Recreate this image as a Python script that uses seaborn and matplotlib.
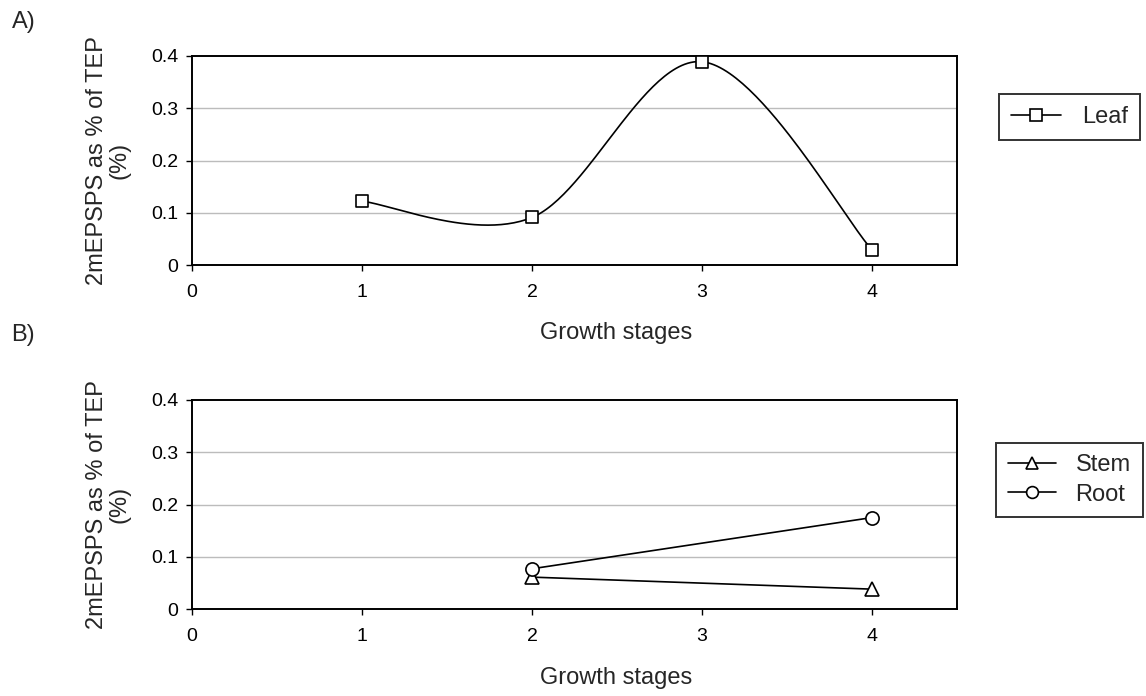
import numpy as np
import matplotlib
matplotlib.use("Agg")
import matplotlib.pyplot as plt
import seaborn as sns
from matplotlib.lines import Line2D

# ---- data ----
leaf_stages = [1, 2, 3, 4]
leaf_values = [0.122, 0.091, 0.389, 0.029]
sr_stages = [2, 4]
stem_values = [0.061, 0.038]
root_values = [0.077, 0.175]
x_ticks = [0, 1, 2, 3, 4]
y_ticks = [0, 0.1, 0.2, 0.3, 0.4]
y_tick_labels = ["0", "0.1", "0.2", "0.3", "0.4"]
y_label = "2mEPSPS as % of TEP\n(%)"
x_label = "Growth stages"
panel_labels = ["A)", "B)"]

sns.set_style("white")
plt.rcParams['font.family'] = ['Liberation Sans', 'DejaVu Sans']

W, H = 1146, 696
fig = plt.figure(figsize=(W / 100, H / 100), dpi=100)


def rect(l, t, r, b):
    return [l / W, 1 - b / H, (r - l) / W, (b - t) / H]


axA = fig.add_axes(rect(192, 56, 957, 265))
axB = fig.add_axes(rect(192, 400, 957, 609))


def smooth(xs, ys, n=60):
    """Excel-style smoothed line (Bezier through the points)."""
    P = np.column_stack([xs, ys]).astype(float)
    out = []
    for i in range(len(P) - 1):
        p0 = P[i - 1] if i > 0 else P[i]
        p1 = P[i]
        p2 = P[i + 1]
        p3 = P[i + 2] if i + 2 < len(P) else P[i + 1]
        c1 = p1 + (p2 - p0) / 6
        c2 = p2 - (p3 - p1) / 6
        t = np.linspace(0, 1, n)[:, None]
        seg = (1 - t) ** 3 * p1 + 3 * (1 - t) ** 2 * t * c1 + 3 * (1 - t) * t ** 2 * c2 + t ** 3 * p2
        out.append(seg if i == 0 else seg[1:])
    return np.vstack(out)


for ax in (axA, axB):
    ax.set_xlim(0, 4.5)
    ax.set_ylim(0, 0.4)
    ax.set_xticks(x_ticks)
    ax.set_xticklabels([str(v) for v in x_ticks])
    ax.set_yticks(y_ticks)
    ax.set_yticklabels(y_tick_labels)
    ax.grid(False)
    for yv in y_ticks[1:-1]:
        ax.axhline(yv, color='#bcbcbc', lw=1.0, zorder=0)
    for s in ax.spines.values():
        s.set_color('black')
        s.set_linewidth(1.4)
        s.set_visible(True)
    ax.tick_params(axis='both', direction='out', length=4, width=1, color='black',
                   labelsize=14, labelcolor='black', bottom=True, left=True)
    ax.tick_params(axis='x', pad=10)
    ax.tick_params(axis='y', pad=6)
    ax.set_facecolor('white')

# Panel A: Leaf (smoothed line)
curve = smooth(leaf_stages, leaf_values)
axA.plot(curve[:, 0], curve[:, 1], color='black', lw=1.2, zorder=2)
sns.scatterplot(x=leaf_stages, y=leaf_values, ax=axA, marker='s', s=80,
                color='white', edgecolor='black', linewidth=1.2, zorder=3, clip_on=False)

# Panel B: Stem and Root
sns.lineplot(x=sr_stages, y=stem_values, ax=axB, color='black', lw=1.2,
             marker='^', markersize=10, markerfacecolor='white', markeredgecolor='black',
             markeredgewidth=1.2, zorder=3, clip_on=False)
sns.lineplot(x=sr_stages, y=root_values, ax=axB, color='black', lw=1.2,
             marker='o', markersize=9.5, markerfacecolor='white', markeredgecolor='black',
             markeredgewidth=1.2, zorder=3, clip_on=False)

# Axis titles
for ax, yc, xl_y in ((axA, (56 + 265) / 2, 333), (axB, (400 + 609) / 2, 678)):
    fig.text(108 / W, 1 - yc / H, y_label, rotation=90, ha='center', va='center',
             multialignment='center', fontsize=17, linespacing=1.0)
    fig.text(616 / W, 1 - xl_y / H, x_label, ha='center', va='center', fontsize=17)

fig.text(12 / W, 1 - 22 / H, panel_labels[0], ha='left', va='center', fontsize=17)
fig.text(11 / W, 1 - 335 / H, panel_labels[1], ha='left', va='center', fontsize=17)

# Legends
hA = [Line2D([], [], color='black', lw=1.2, marker='s', markersize=8.5,
             markerfacecolor='white', markeredgecolor='black', markeredgewidth=1.2)]
legA = fig.legend(hA, ['Leaf'], loc='center', bbox_to_anchor=(1069.5 / W, 1 - 117 / H),
                  frameon=True, fancybox=False, edgecolor='black', fontsize=17,
                  handlelength=2.1, handletextpad=0.9, borderpad=0.5)
legA.get_frame().set_linewidth(1.4)

hB = [Line2D([], [], color='black', lw=1.2, marker='^', markersize=9,
             markerfacecolor='white', markeredgecolor='black', markeredgewidth=1.2),
      Line2D([], [], color='black', lw=1.2, marker='o', markersize=8.5,
             markerfacecolor='white', markeredgecolor='black', markeredgewidth=1.2)]
legB = fig.legend(hB, ['Stem', 'Root'], loc='center', bbox_to_anchor=(1069.5 / W, 1 - 480 / H),
                  frameon=True, fancybox=False, edgecolor='black', fontsize=17,
                  handlelength=2.0, handletextpad=0.85, borderpad=0.5, labelspacing=0.3)
legB.get_frame().set_linewidth(1.4)

fig.savefig('out.png', dpi=100, facecolor='white')
